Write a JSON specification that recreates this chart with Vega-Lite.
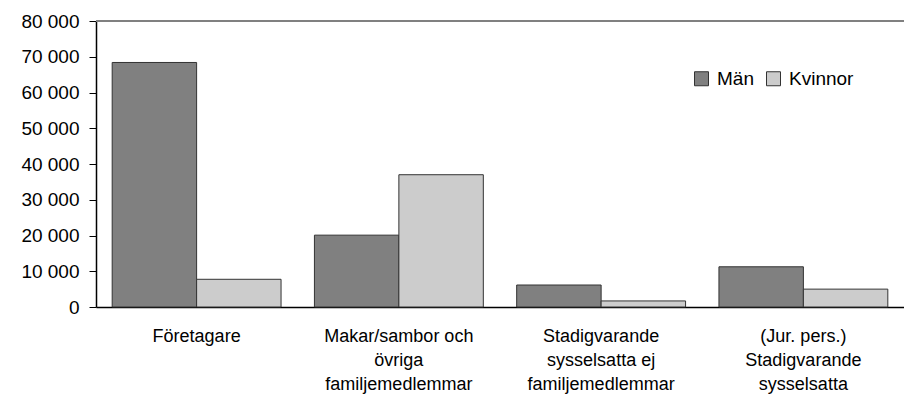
{
  "$schema": "https://vega.github.io/schema/vega-lite/v6.json",
  "autosize": "none",
  "padding": {"left": 96, "top": 21, "right": 0, "bottom": 94},
  "width": 808,
  "height": 286,
  "background": "white",
  "data": {
    "values": [
      {"kategori": "Företagare", "kon": "Män", "antal": 68400},
      {"kategori": "Företagare", "kon": "Kvinnor", "antal": 7750},
      {"kategori": "Makar/sambor och|övriga|familjemedlemmar", "kon": "Män", "antal": 20100},
      {"kategori": "Makar/sambor och|övriga|familjemedlemmar", "kon": "Kvinnor", "antal": 37000},
      {"kategori": "Stadigvarande|sysselsatta ej|familjemedlemmar", "kon": "Män", "antal": 6150},
      {"kategori": "Stadigvarande|sysselsatta ej|familjemedlemmar", "kon": "Kvinnor", "antal": 1700},
      {"kategori": "(Jur. pers.)|Stadigvarande|sysselsatta", "kon": "Män", "antal": 11250},
      {"kategori": "(Jur. pers.)|Stadigvarande|sysselsatta", "kon": "Kvinnor", "antal": 5000}
    ]
  },
  "encoding": {
    "y": {
      "field": "antal",
      "type": "quantitative",
      "scale": {"domain": [0, 80000], "nice": false},
      "axis": {
        "title": null,
        "values": [0, 10000, 20000, 30000, 40000, 50000, 60000, 70000, 80000],
        "labelExpr": "replace(format(datum.value, ','), regexp(',', 'g'), ' ')",
        "labelOverlap": false,
        "grid": false,
        "labelFont": "Liberation Sans",
        "labelFontSize": 19,
        "labelColor": "#000000",
        "labelPadding": 10,
        "tickSize": 7,
        "tickColor": "#000000",
        "domainColor": "#000000",
        "domainWidth": 1.5
      }
    }
  },
  "layer": [
    {
      "mark": {"type": "bar", "stroke": "#333333", "strokeWidth": 1},
      "encoding": {
        "x": {
          "field": "kategori",
          "type": "nominal",
          "sort": null,
          "scale": {"paddingInner": 0.165, "paddingOuter": 0.08},
          "axis": {
            "title": null,
            "labelAngle": 0,
            "labelExpr": "split(datum.label, '|')",
            "labelFont": "Liberation Sans",
            "labelFontSize": 18,
            "labelColor": "#000000",
            "labelLineHeight": 24,
            "labelPadding": 20,
            "labelBaseline": "top",
            "labelOverlap": false,
            "ticks": false,
            "domainColor": "#000000",
            "domainWidth": 1.5
          }
        },
        "xOffset": {"field": "kon", "type": "nominal", "sort": ["Män", "Kvinnor"]},
        "color": {
          "field": "kon",
          "type": "nominal",
          "scale": {"domain": ["Män", "Kvinnor"], "range": ["#808080", "#cccccc"]},
          "legend": {
            "title": null,
            "orient": "none",
            "legendX": 596,
            "legendY": 48,
            "direction": "horizontal",
            "symbolType": "square",
            "symbolSize": 196,
            "symbolStrokeColor": "#333333",
            "symbolStrokeWidth": 1,
            "labelFont": "Liberation Sans",
            "labelFontSize": 19,
            "labelColor": "#000000",
            "labelOffset": 6,
            "columnPadding": 10
          }
        }
      }
    },
    {
      "mark": {"type": "rule", "color": "#808080", "strokeWidth": 1.5},
      "encoding": {"y": {"datum": 80000, "type": "quantitative"}}
    }
  ],
  "config": {
    "view": {"stroke": null},
    "axis": {"labelOverlap": false}
  }
}
